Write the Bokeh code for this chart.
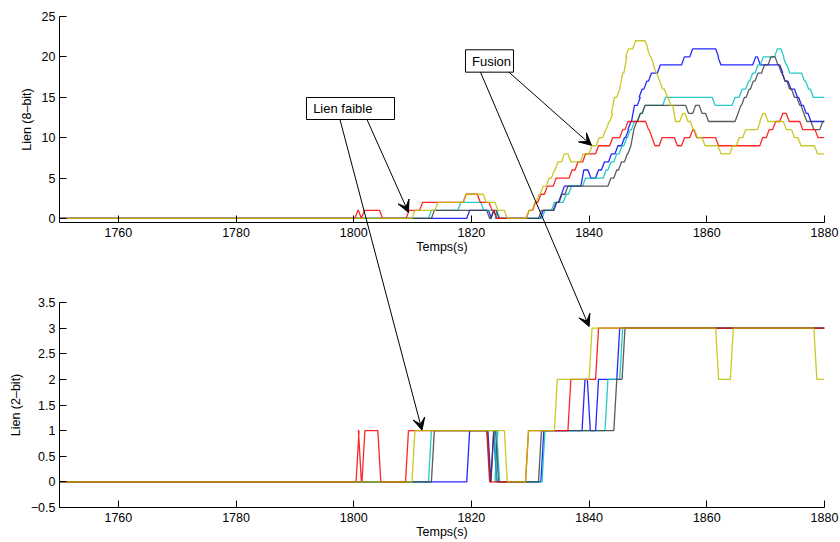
from bokeh.plotting import figure
from bokeh.layouts import column
from bokeh.models import Range1d, FixedTicker, Arrow, VeeHead, Label, BoxAnnotation
from bokeh.embed import file_html
from bokeh.resources import INLINE

# ---------------- data ----------------
X_START, X_END = 1750, 1880
X_TICKS = [1760, 1780, 1800, 1820, 1840, 1860, 1880]
Y8_TICKS = [0, 5, 10, 15, 20, 25]
Y2_TICKS = [-0.5, 0, 0.5, 1, 1.5, 2, 2.5, 3, 3.5]
Y2_LABELS = ["\u22120.5", "0", "0.5", "1", "1.5", "2", "2.5", "3", "3.5"]

# 8-bit link quality: time at which the value changes, and the new value
RED8_T = [1750, 1800.2, 1800.8, 1801.3, 1804.4, 1808.9, 1811.2, 1818.6, 1821.0, 1823.0, 1823.8,
          1829.3, 1830.4, 1831.3, 1832.4, 1833.9, 1836.6, 1837.6, 1838.9, 1841.1, 1843.5, 1845.2,
          1846.1, 1849.6, 1850.2, 1850.7, 1851.9, 1854.5, 1855.7, 1857.1, 1857.8, 1861.5, 1869.0,
          1870.1, 1871.2, 1872.4, 1873.5, 1875.8, 1878.4]
RED8_V = [0, 1, 0, 1, 0, 1, 2, 3, 2, 1, 0,
          1, 2, 3, 4, 5, 6, 7, 8, 9, 10, 11,
          12, 11, 10, 9, 10, 9, 10, 11, 10, 9, 10,
          11, 12, 13, 12, 11, 10]

YEL8_T = [1750, 1809.9, 1813.8, 1818.6, 1822.0, 1824.0, 1825.6, 1829.3, 1830.3, 1831.0, 1831.7,
          1832.7, 1833.6, 1834.2, 1835.3, 1836.4, 1838.5, 1840.0, 1841.2, 1842.3, 1842.9, 1843.5,
          1843.8, 1844.7, 1845.2, 1845.9, 1846.2, 1847.4, 1849.5, 1849.9, 1850.5, 1850.9, 1851.5,
          1852.0, 1852.8, 1853.4, 1854.2, 1855.4, 1856.3, 1857.2, 1857.9, 1859.2, 1861.9, 1863.9,
          1865.0, 1866.1, 1868.6, 1869.0, 1869.9, 1873.0, 1874.4, 1875.5, 1878.3]
YEL8_V = [0, 1, 2, 3, 2, 1, 0, 1, 2, 3, 4,
          5, 6, 7, 8, 7, 8, 9, 10, 11, 12, 13,
          15, 16, 18, 20, 21, 22, 21, 20, 19, 18, 17,
          16, 15, 14, 12, 13, 12, 11, 10, 9, 8, 9,
          10, 11, 12, 13, 12, 11, 10, 9, 8]

BLU8_T = [1750, 1819.2, 1822.9, 1823.3, 1823.8, 1831.7, 1834.0, 1834.8, 1835.3, 1838.6, 1839.8,
          1841.1, 1842.1, 1843.3, 1844.4, 1845.5, 1846.2, 1846.6, 1847.2, 1848.2, 1848.5, 1849.3,
          1850.1, 1851.6, 1855.7, 1857.1, 1861.5, 1861.9, 1867.8, 1868.6, 1872.4, 1872.8, 1873.8,
          1874.9, 1875.6, 1876.4, 1877.2]
BLU8_V = [0, 1, 0, 1, 0, 1, 2, 3, 4, 6, 5,
          6, 7, 8, 9, 10, 11, 12, 14, 15, 16, 17,
          18, 19, 20, 21, 20, 19, 20, 19, 18, 17, 16,
          15, 14, 13, 12]

CYA8_T = [1750, 1812.7, 1817.7, 1821.6, 1823.8, 1824.0, 1824.3, 1832.0, 1833.6, 1835.6, 1836.5,
          1838.9, 1842.4, 1843.2, 1844.2, 1845.1, 1845.9, 1846.5, 1847.2, 1848.2, 1849.0, 1852.5,
          1860.9, 1864.3, 1865.5, 1866.6, 1867.3, 1868.2, 1869.1, 1871.5, 1872.6, 1873.0, 1873.6,
          1876.1, 1876.8, 1877.6]
CYA8_V = [0, 1, 2, 1, 0, 1, 0, 1, 2, 3, 4,
          5, 6, 7, 8, 9, 10, 11, 12, 13, 14, 15,
          14, 15, 16, 17, 18, 19, 20, 21, 20, 19, 18,
          17, 16, 15]

GRY8_T = [1750, 1813.2, 1822.6, 1823.3, 1824.2, 1831.4, 1833.9, 1834.9, 1835.9, 1843.2, 1844.2,
          1845.0, 1846.0, 1846.6, 1847.1, 1847.6, 1848.2, 1849.0, 1856.4, 1857.6, 1858.7, 1859.8,
          1864.8, 1865.3, 1865.9, 1866.7, 1867.4, 1868.2, 1869.3, 1870.4, 1871.6, 1872.2, 1872.8,
          1873.6, 1874.4, 1875.3, 1876.0, 1876.5, 1877.7, 1879.2]
GRY8_V = [0, 1, 0, 1, 0, 1, 2, 3, 4, 5, 6,
          7, 8, 9, 11, 12, 13, 14, 13, 14, 13, 12,
          13, 14, 15, 16, 17, 18, 19, 20, 19, 18, 17,
          16, 15, 14, 13, 12, 11, 12]

# 2-bit link quality
RED2_T = [1750, 1800.4, 1800.8, 1801.4, 1804.1, 1808.8, 1822.7, 1829.2, 1836.4, 1841.1]
RED2_V = [0, 1, 0, 1, 0, 1, 0, 1, 2, 3]
YEL2_T = [1750, 1809.9, 1825.6, 1829.2, 1834.1, 1840.0, 1861.5, 1864.0, 1878.2]
YEL2_V = [0, 1, 0, 1, 2, 3, 2, 3, 2]
BLU2_T = [1750, 1819.2, 1822.8, 1823.3, 1823.8, 1831.8, 1838.8, 1839.7, 1841.1, 1844.7]
BLU2_V = [0, 1, 0, 1, 0, 1, 2, 1, 2, 3]
CYA2_T = [1750, 1812.7, 1823.8, 1824.0, 1824.3, 1832.0, 1842.7, 1845.2]
CYA2_V = [0, 1, 0, 1, 0, 1, 2, 3]
GRY2_T = [1750, 1813.2, 1822.6, 1823.3, 1824.1, 1831.4, 1844.2, 1845.6]
GRY2_V = [0, 1, 0, 1, 0, 1, 2, 3]

COLORS = {"blue": "#0000ff", "cyan": "#00bfbf", "gray": "#404040", "red": "#ff0000", "yellow": "#bfbf00"}

SERIES8 = [("blue", BLU8_T, BLU8_V), ("cyan", CYA8_T, CYA8_V), ("gray", GRY8_T, GRY8_V),
           ("red", RED8_T, RED8_V), ("yellow", YEL8_T, YEL8_V)]
SERIES2 = [("blue", BLU2_T, BLU2_V), ("cyan", CYA2_T, CYA2_V), ("gray", GRY2_T, GRY2_V),
           ("red", RED2_T, RED2_V), ("yellow", YEL2_T, YEL2_V)]

# ---------------- layout constants ----------------
FONT = "Liberation Sans"
PAGE_H = 542
FRAME_W = 765
LEFT_B, RIGHT_B = 59, 16
TOP1_B, FRAME1_H, BOT1_B = 16, 206, 40
TOP2_B, FRAME2_H, BOT2_B = 40, 205, 35
Y8_RANGE = (-0.5, 25)
Y2_RANGE = (-0.5, 3.5)
TRANS = 0.5  # duration of one sample transition (s)


def step_xy(ts, vs):
    xs, ys = [ts[0]], [vs[0]]
    for i in range(1, len(ts)):
        xs += [ts[i], ts[i] + TRANS]
        ys += [vs[i - 1], vs[i]]
    xs.append(X_END)
    ys.append(vs[-1])
    return xs, ys


def make_fig(yr, frame_h, top_b, bot_b, ylabel, yticks, overrides=None):
    p = figure(frame_width=FRAME_W, frame_height=frame_h,
               x_range=Range1d(X_START, X_END), y_range=Range1d(*yr),
               output_backend="svg", toolbar_location=None,
               min_border_left=LEFT_B, min_border_right=RIGHT_B,
               min_border_top=top_b, min_border_bottom=bot_b)
    p.outline_line_color = None
    p.grid.visible = False
    p.background_fill_color = "white"
    p.border_fill_color = "white"
    for ax in (p.xaxis[0], p.yaxis[0]):
        ax.axis_line_color = "black"
        ax.axis_line_width = 1
        ax.major_tick_in = 7
        ax.major_tick_out = 0
        ax.minor_tick_line_color = None
        ax.major_tick_line_color = "black"
        ax.major_label_text_font = FONT
        ax.major_label_text_font_size = "12.5px"
        ax.major_label_text_color = "black"
        ax.axis_label_text_font = FONT
        ax.axis_label_text_font_size = "12.5px"
        ax.axis_label_text_font_style = "normal"
        ax.axis_label_text_color = "black"
    p.xaxis.ticker = FixedTicker(ticks=X_TICKS)
    p.xaxis.axis_label = "Temps(s)"
    p.xaxis.major_label_standoff = 5
    p.xaxis.axis_label_standoff = 0
    p.yaxis.ticker = FixedTicker(ticks=yticks)
    p.yaxis.axis_label = ylabel
    p.yaxis.major_label_standoff = 4
    p.yaxis.axis_label_standoff = 5
    if overrides:
        p.yaxis.major_label_overrides = overrides
    return p


p1 = make_fig(Y8_RANGE, FRAME1_H, TOP1_B, BOT1_B, "Lien (8\u2013bit)", Y8_TICKS)
p2 = make_fig(Y2_RANGE, FRAME2_H, TOP2_B, BOT2_B, "Lien (2\u2013bit)", Y2_TICKS,
              {t: l for t, l in zip(Y2_TICKS, Y2_LABELS)})

for name, ts, vs in SERIES8:
    xs, ys = step_xy(ts, vs)
    p1.line(xs, ys, line_color=COLORS[name], line_width=1.3, line_alpha=0.85)
for name, ts, vs in SERIES2:
    xs, ys = step_xy(ts, vs)
    p2.line(xs, ys, line_color=COLORS[name], line_width=1.3, line_alpha=0.85)

# ---------------- annotations ----------------
# text boxes (top panel data coordinates)
BOXES = [("Lien faible", 1791.97, 1806.93, 14.97, 12.25, 1793.1, 13.61),
         ("Fusion", 1818.99, 1827.15, 20.88, 18.11, 1820.1, 19.49)]
for text, l, r, t, b, tx, ty in BOXES:
    p1.add_layout(BoxAnnotation(left=l, right=r, top=t, bottom=b, fill_color="white", fill_alpha=1.0,
                                line_color="black", line_width=1, line_alpha=1.0))
    p1.add_layout(Label(x=tx, y=ty, text=text, text_align="left", text_baseline="middle",
                        text_font=FONT, text_font_size="13px", text_color="black"))

# vertical page-pixel positions of panel values (measured from the top of the page)
H1 = TOP1_B + FRAME1_H + BOT1_B
def top_y_to_px(v):
    return TOP1_B + (Y8_RANGE[1] - v) / (Y8_RANGE[1] - Y8_RANGE[0]) * FRAME1_H
def bot_y_to_px(v):
    return H1 + TOP2_B + (Y2_RANGE[1] - v) / (Y2_RANGE[1] - Y2_RANGE[0]) * FRAME2_H

# arrows: start point in the top panel, tip in the top ("t") or bottom ("b") panel
ARROWS = [(1826.38, 18.11, 1840.4, 9.05, "t"),
          (1802.25, 12.25, 1809.3, 0.75, "t"),
          (1821.54, 18.11, 1840.0, 3.03, "b"),
          (1797.66, 12.25, 1811.6, 1.01, "b")]

# transparent overlay spanning both panels (same time axis), so arrows may cross panels
ov = figure(frame_width=FRAME_W, frame_height=PAGE_H,
            x_range=Range1d(X_START, X_END), y_range=Range1d(PAGE_H, 0),
            output_backend="svg", toolbar_location=None, x_axis_type=None, y_axis_type=None,
            min_border_left=LEFT_B, min_border_right=RIGHT_B, min_border_top=0, min_border_bottom=0,
            margin=(-PAGE_H, 0, 0, 0))
ov.outline_line_color = None
ov.grid.visible = False
ov.background_fill_alpha = 0
ov.border_fill_alpha = 0
for x0, y0, x1, y1, panel in ARROWS:
    tip_y = top_y_to_px(y1) if panel == "t" else bot_y_to_px(y1)
    ov.add_layout(Arrow(end=VeeHead(size=12, fill_color="black", line_color="black", line_width=1),
                        x_start=x0, y_start=top_y_to_px(y0), x_end=x1, y_end=tip_y,
                        line_color="black", line_width=1))

layout = column(p1, p2, ov, spacing=0)
open("out.html", "w").write(file_html(layout, INLINE))
